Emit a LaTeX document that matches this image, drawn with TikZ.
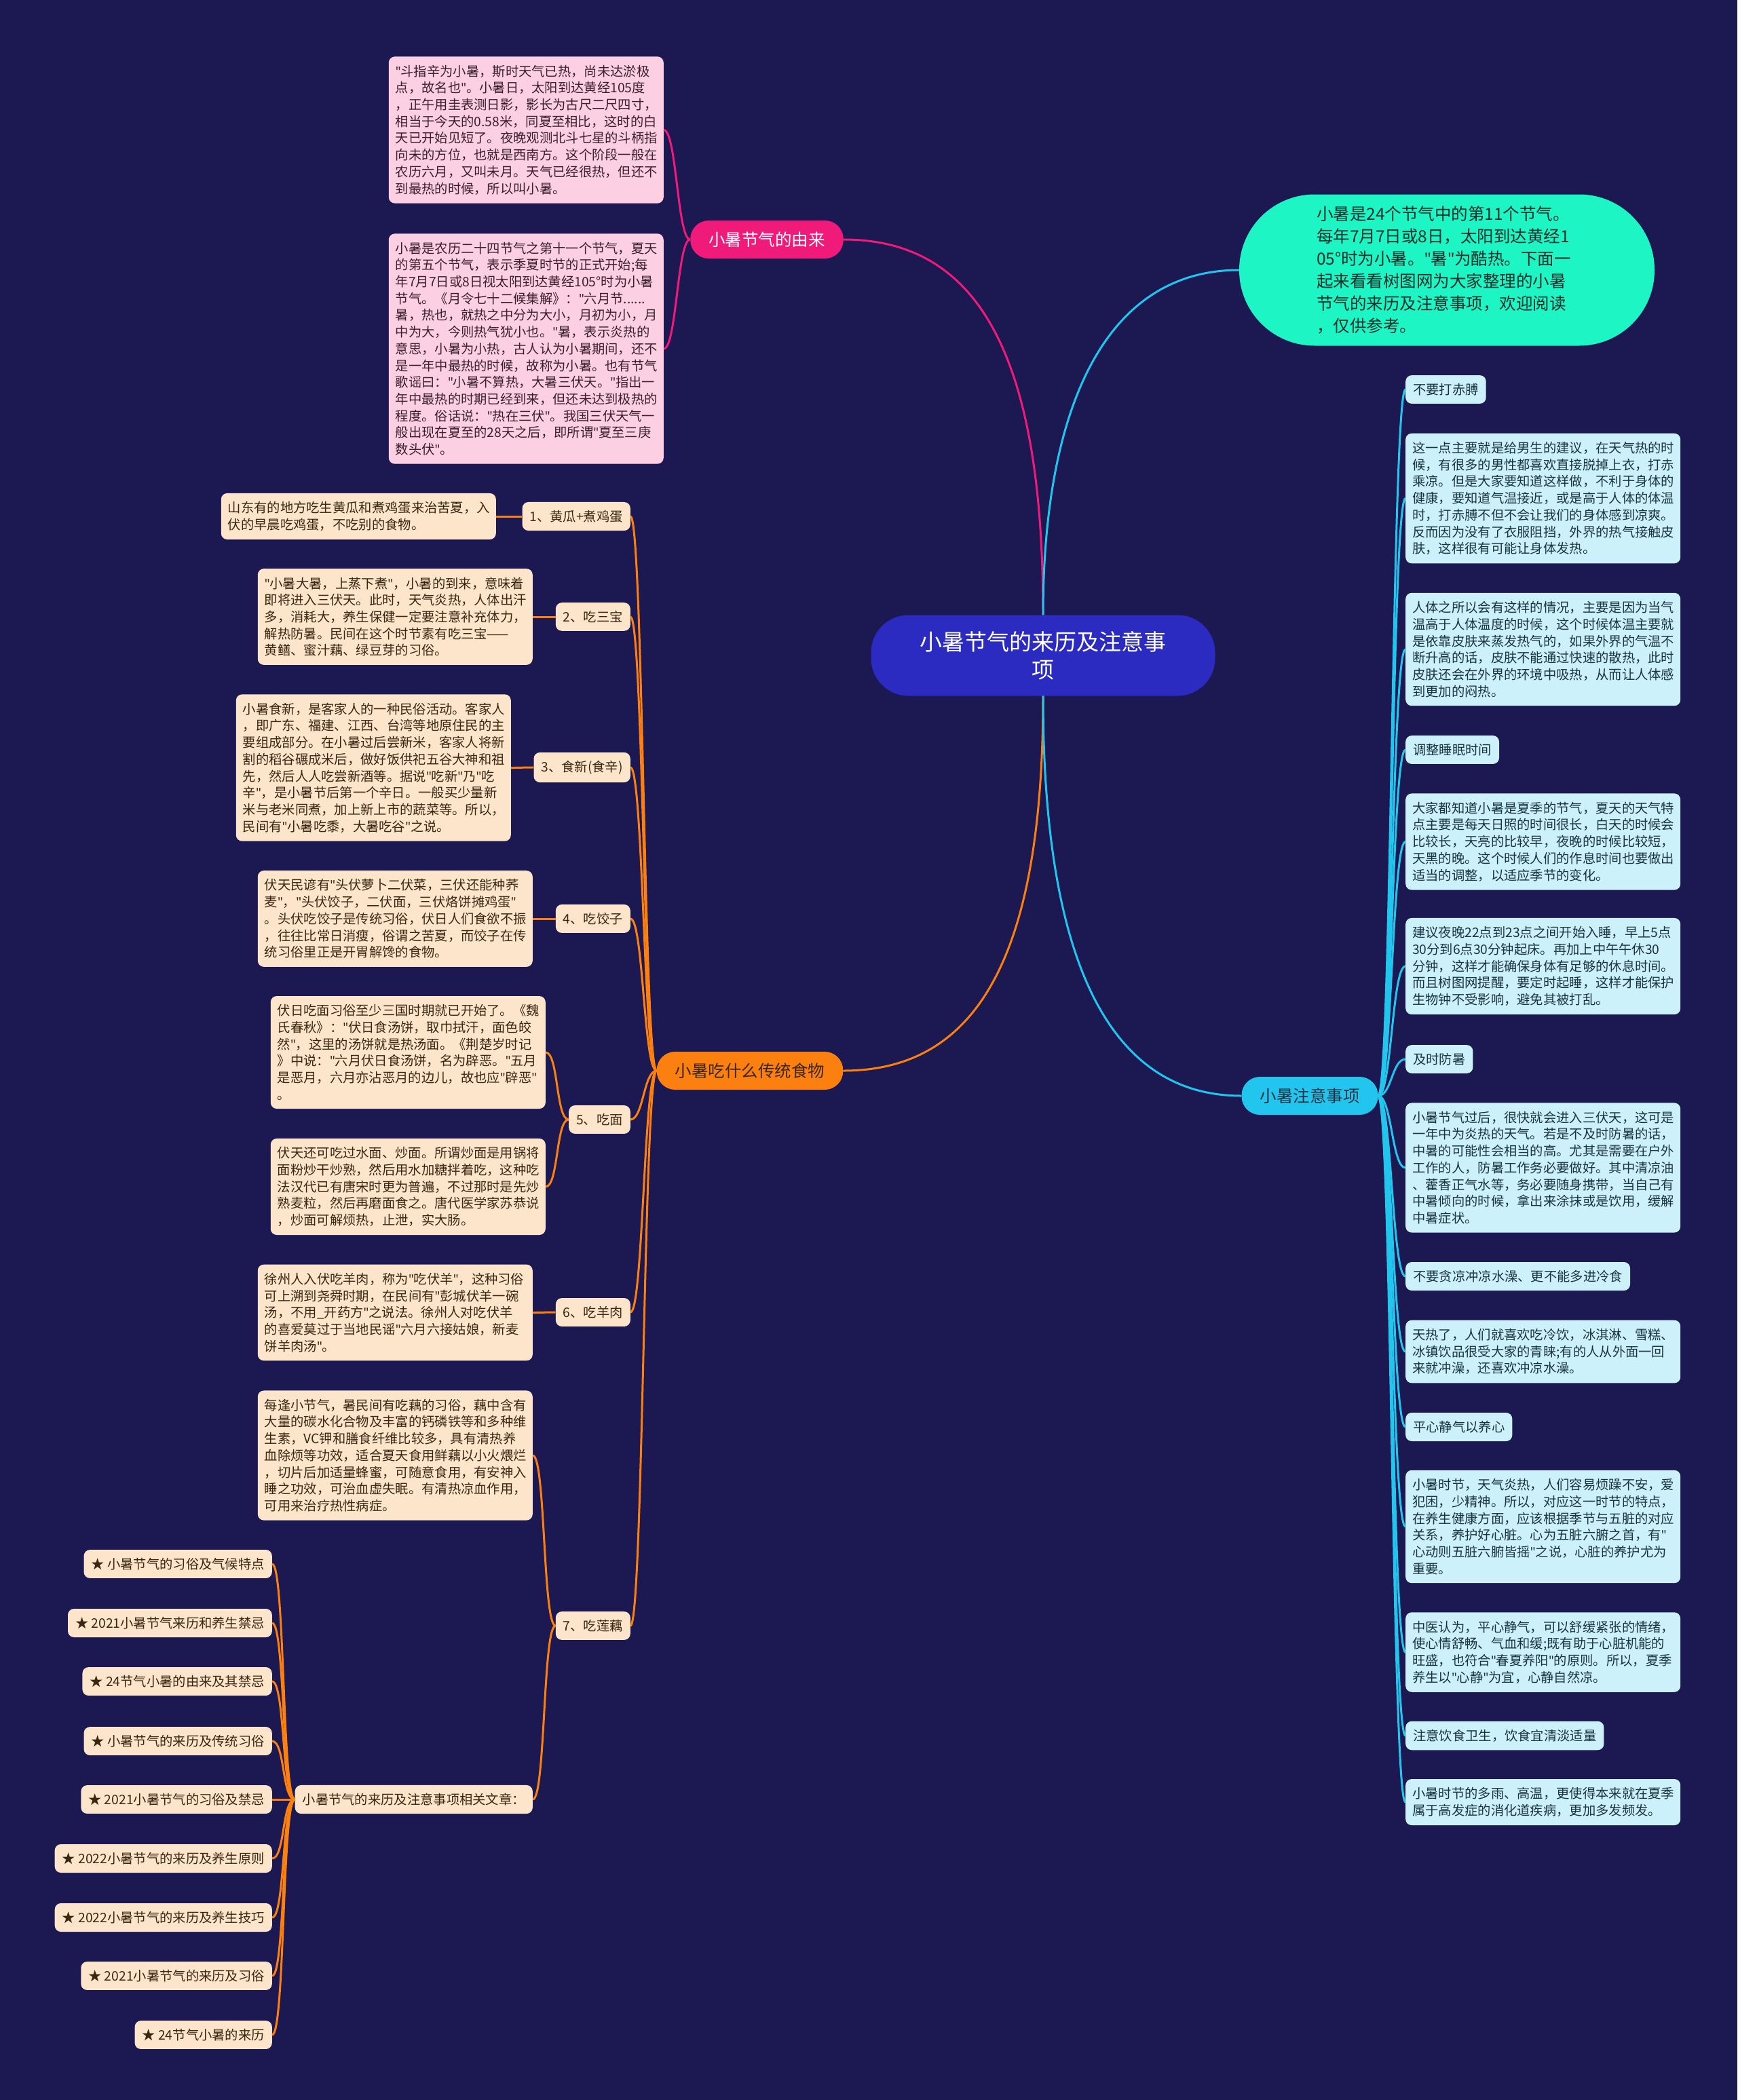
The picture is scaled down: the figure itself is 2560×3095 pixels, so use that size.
\documentclass[tikz,border=0pt]{standalone}
\usepackage{fontspec}
\setmainfont{Noto Sans CJK SC}
\newfontfamily\quotefont{Noto Sans}
\newcommand{\dq}{{\quotefont"}}
\definecolor{night}{HTML}{1B1852}
\definecolor{rootblue}{HTML}{2B2BC2}
\definecolor{mint}{HTML}{1EF5C5}
\definecolor{hotpink}{HTML}{F01A7B}
\definecolor{tangerine}{HTML}{FC800F}
\definecolor{sky}{HTML}{22C5EE}
\definecolor{pinkfill}{HTML}{FCD0E2}
\definecolor{sandfill}{HTML}{FCE5CB}
\definecolor{icefill}{HTML}{CDF1FA}
\definecolor{pinkink}{HTML}{3B1F2B}
\definecolor{sandink}{HTML}{3A2613}
\definecolor{iceink}{HTML}{1A3344}
\definecolor{mintink}{HTML}{14302C}
\begin{document}
\begin{tikzpicture}[x=1pt,y=-1pt,
  every node/.style={font=\fontsize{19.3pt}{24.7pt}\selectfont},
  rootbox/.style={fill=rootblue,text=white,rounded corners=55pt,minimum width=507pt,minimum height=119pt,align=center,font=\fontsize{33pt}{41pt}\selectfont},
  topbox/.style={fill=mint,text=mintink,rounded corners=111pt,minimum width=612pt,minimum height=223pt,text width=384pt,align=left,font=\fontsize{24.5pt}{33pt}\selectfont},
  mainbox/.style={rounded corners=27pt,minimum height=56pt,inner xsep=27pt,font=\fontsize{24.5pt}{30pt}\selectfont},
  note/.style={rounded corners=9pt,inner xsep=10pt,inner ysep=12.5pt,text width=385pt,align=left},
  tag/.style={rounded corners=9pt,inner xsep=11pt,inner ysep=12pt},
  pinknote/.style={note,fill=pinkfill,text=pinkink},
  sandnote/.style={note,fill=sandfill,text=sandink},
  icenote/.style={note,fill=icefill,text=iceink},
  sandtag/.style={tag,fill=sandfill,text=sandink},
  icetag/.style={tag,fill=icefill,text=iceink},
  pinkline/.style={draw=hotpink,line width=3pt},
  orangeline/.style={draw=tangerine,line width=3pt},
  skyline/.style={draw=sky,line width=3pt},
  lft/.style={to path={.. controls +(-19,0) and +(19,0) .. (\tikztotarget)}},
  rgt/.style={to path={.. controls +(20,0) and +(-20,0) .. (\tikztotarget)}}]
\fill[night] (0,0) rectangle (2560,3095);
\useasboundingbox (0,0) rectangle (2560,3095);

\node(root)[rootbox] at (1537,966){小暑节气的来历及注意事\\项};
\node(intro)[topbox] at (2132,398){小暑是24个节气中的第11个节气。\\每年7月7日或8日，太阳到达黄经1\\05°时为小暑。\dq{}暑\dq{}为酷热。下面一\\起来看看树图网为大家整理的小暑\\节气的来历及注意事项，欢迎阅读\\，仅供参考。};
\node(origin)[mainbox,fill=hotpink,text=white] at (1130,353){小暑节气的由来};
\node(food)[mainbox,fill=tangerine,text=sandink] at (1105,1578){小暑吃什么传统食物};
\node(care)[mainbox,fill=sky,text=iceink] at (1930,1615){小暑注意事项};

\node(p1)[pinknote,anchor=east] at (978,191.5){\dq{}斗指辛为小暑，斯时天气已热，尚未达淤极\\点，故名也\dq{}。小暑日，太阳到达黄经105度\\，正午用圭表测日影，影长为古尺二尺四寸，\\相当于今天的0.58米，同夏至相比，这时的白\\天已开始见短了。夜晚观测北斗七星的斗柄指\\向未的方位，也就是西南方。这个阶段一般在\\农历六月，又叫未月。天气已经很热，但还不\\到最热的时候，所以叫小暑。};
\node(p2)[pinknote,anchor=east] at (978,514){小暑是农历二十四节气之第十一个节气，夏天\\的第五个节气，表示季夏时节的正式开始;每\\年7月7日或8日视太阳到达黄经105°时为小暑\\节气。《月令七十二候集解》：\dq{}六月节......\\暑，热也，就热之中分为大小，月初为小，月\\中为大，今则热气犹小也。\dq{}暑，表示炎热的\\意思，小暑为小热，古人认为小暑期间，还不\\是一年中最热的时候，故称为小暑。也有节气\\歌谣曰：\dq{}小暑不算热，大暑三伏天。\dq{}指出一\\年中最热的时期已经到来，但还未达到极热的\\程度。俗话说：\dq{}热在三伏\dq{}。我国三伏天气一\\般出现在夏至的28天之后，即所谓\dq{}夏至三庚\\数头伏\dq{}。};

\node(f1)[sandtag,anchor=east] at (929,761){1、黄瓜+煮鸡蛋};
\node(f2)[sandtag,anchor=east] at (929,909){2、吃三宝};
\node(f3)[sandtag,anchor=east] at (929,1131){3、食新(食辛)};
\node(f4)[sandtag,anchor=east] at (929,1354){4、吃饺子};
\node(f5)[sandtag,anchor=east] at (929,1650){5、吃面};
\node(f6)[sandtag,anchor=east] at (929,1934){6、吃羊肉};
\node(f7)[sandtag,anchor=east] at (929,2396){7、吃莲藕};

\node(t1)[sandnote,anchor=east] at (731,761){山东有的地方吃生黄瓜和煮鸡蛋来治苦夏，入\\伏的早晨吃鸡蛋，不吃别的食物。};
\node(t2)[sandnote,anchor=east] at (785,909){\dq{}小暑大暑，上蒸下煮\dq{}，小暑的到来，意味着\\即将进入三伏天。此时，天气炎热，人体出汗\\多，消耗大，养生保健一定要注意补充体力，\\解热防暑。民间在这个时节素有吃三宝——\\黄鳝、蜜汁藕、绿豆芽的习俗。};
\node(t3)[sandnote,anchor=east] at (753,1131.5){小暑食新，是客家人的一种民俗活动。客家人\\，即广东、福建、江西、台湾等地原住民的主\\要组成部分。在小暑过后尝新米，客家人将新\\割的稻谷碾成米后，做好饭供祀五谷大神和祖\\先，然后人人吃尝新酒等。据说\dq{}吃新\dq{}乃\dq{}吃\\辛\dq{}，是小暑节后第一个辛日。一般买少量新\\米与老米同煮，加上新上市的蔬菜等。所以，\\民间有\dq{}小暑吃黍，大暑吃谷\dq{}之说。};
\node(t4)[sandnote,anchor=east] at (785,1354){伏天民谚有\dq{}头伏萝卜二伏菜，三伏还能种荞\\麦\dq{}，\dq{}头伏饺子，二伏面，三伏烙饼摊鸡蛋\dq{}\\。头伏吃饺子是传统习俗，伏日人们食欲不振\\，往往比常日消瘦，俗谓之苦夏，而饺子在传\\统习俗里正是开胃解馋的食物。};
\node(t5a)[sandnote,anchor=east] at (804,1551){伏日吃面习俗至少三国时期就已开始了。《魏\\氏春秋》：\dq{}伏日食汤饼，取巾拭汗，面色皎\\然\dq{}，这里的汤饼就是热汤面。《荆楚岁时记\\》中说：\dq{}六月伏日食汤饼，名为辟恶。\dq{}五月\\是恶月，六月亦沾恶月的边儿，故也应\dq{}辟恶\dq{}\\。};
\node(t5b)[sandnote,anchor=east] at (804,1749){伏天还可吃过水面、炒面。所谓炒面是用锅将\\面粉炒干炒熟，然后用水加糖拌着吃，这种吃\\法汉代已有唐宋时更为普遍，不过那时是先炒\\熟麦粒，然后再磨面食之。唐代医学家苏恭说\\，炒面可解烦热，止泄，实大肠。};
\node(t6)[sandnote,anchor=east] at (785,1934.5){徐州人入伏吃羊肉，称为\dq{}吃伏羊\dq{}，这种习俗\\可上溯到尧舜时期，在民间有\dq{}彭城伏羊一碗\\汤，不用\_开药方\dq{}之说法。徐州人对吃伏羊\\的喜爱莫过于当地民谣\dq{}六月六接姑娘，新麦\\饼羊肉汤\dq{}。};
\node(t7)[sandnote,anchor=east] at (785,2145){每逢小节气，暑民间有吃藕的习俗，藕中含有\\大量的碳水化合物及丰富的钙磷铁等和多种维\\生素，VC钾和膳食纤维比较多，具有清热养\\血除烦等功效，适合夏天食用鲜藕以小火煨烂\\，切片后加适量蜂蜜，可随意食用，有安神入\\睡之功效，可治血虚失眠。有清热凉血作用，\\可用来治疗热性病症。};
\node(rel)[sandtag,anchor=east] at (785,2652){小暑节气的来历及注意事项相关文章：};

\node(s1)[sandtag,anchor=east] at (401,2305){★ 小暑节气的习俗及气候特点};
\node(s2)[sandtag,anchor=east] at (401,2392){★ 2021小暑节气来历和养生禁忌};
\node(s3)[sandtag,anchor=east] at (401,2478){★ 24节气小暑的由来及其禁忌};
\node(s4)[sandtag,anchor=east] at (401,2566){★ 小暑节气的来历及传统习俗};
\node(s5)[sandtag,anchor=east] at (401,2652){★ 2021小暑节气的习俗及禁忌};
\node(s6)[sandtag,anchor=east] at (401,2739){★ 2022小暑节气的来历及养生原则};
\node(s7)[sandtag,anchor=east] at (401,2826){★ 2022小暑节气的来历及养生技巧};
\node(s8)[sandtag,anchor=east] at (401,2912){★ 2021小暑节气的来历及习俗};
\node(s9)[sandtag,anchor=east] at (401,2999){★ 24节气小暑的来历};

\node(c1)[icetag,anchor=west] at (2071,574){不要打赤膊};
\node(r1)[icenote,anchor=west] at (2071,734.5){这一点主要就是给男生的建议，在天气热的时\\候，有很多的男性都喜欢直接脱掉上衣，打赤\\乘凉。但是大家要知道这样做，不利于身体的\\健康，要知道气温接近，或是高于人体的体温\\时，打赤膊不但不会让我们的身体感到凉爽。\\反而因为没有了衣服阻挡，外界的热气接触皮\\肤，这样很有可能让身体发热。};
\node(r2)[icenote,anchor=west] at (2071,957){人体之所以会有这样的情况，主要是因为当气\\温高于人体温度的时候，这个时候体温主要就\\是依靠皮肤来蒸发热气的，如果外界的气温不\\断升高的话，皮肤不能通过快速的散热，此时\\皮肤还会在外界的环境中吸热，从而让人体感\\到更加的闷热。};
\node(c2)[icetag,anchor=west] at (2071,1105){调整睡眠时间};
\node(r3)[icenote,anchor=west] at (2071,1240.5){大家都知道小暑是夏季的节气，夏天的天气特\\点主要是每天日照的时间很长，白天的时候会\\比较长，天亮的比较早，夜晚的时候比较短，\\天黑的晚。这个时候人们的作息时间也要做出\\适当的调整，以适应季节的变化。};
\node(r4)[icenote,anchor=west] at (2071,1424){建议夜晚22点到23点之间开始入睡，早上5点\\30分到6点30分钟起床。再加上中午午休30\\分钟，这样才能确保身体有足够的休息时间。\\而且树图网提醒，要定时起睡，这样才能保护\\生物钟不受影响，避免其被打乱。};
\node(c3)[icetag,anchor=west] at (2071,1561){及时防暑};
\node(r5)[icenote,anchor=west] at (2071,1721){小暑节气过后，很快就会进入三伏天，这可是\\一年中为炎热的天气。若是不及时防暑的话，\\中暑的可能性会相当的高。尤其是需要在户外\\工作的人，防暑工作务必要做好。其中清凉油\\、藿香正气水等，务必要随身携带，当自己有\\中暑倾向的时候，拿出来涂抹或是饮用，缓解\\中暑症状。};
\node(c4)[icetag,anchor=west] at (2071,1881){不要贪凉冲凉水澡、更不能多进冷食};
\node(r6)[icenote,anchor=west] at (2071,1992){天热了，人们就喜欢吃冷饮，冰淇淋、雪糕、\\冰镇饮品很受大家的青睐;有的人从外面一回\\来就冲澡，还喜欢冲凉水澡。};
\node(c5)[icetag,anchor=west] at (2071,2103){平心静气以养心};
\node(r7)[icenote,anchor=west] at (2071,2250){小暑时节，天气炎热，人们容易烦躁不安，爱\\犯困，少精神。所以，对应这一时节的特点，\\在养生健康方面，应该根据季节与五脏的对应\\关系，养护好心脏。心为五脏六腑之首，有\dq{}\\心动则五脏六腑皆摇\dq{}之说，心脏的养护尤为\\重要。};
\node(r8)[icenote,anchor=west] at (2071,2435){中医认为，平心静气，可以舒缓紧张的情绪，\\使心情舒畅、气血和缓;既有助于心脏机能的\\旺盛，也符合\dq{}春夏养阳\dq{}的原则。所以，夏季\\养生以\dq{}心静\dq{}为宜，心静自然凉。};
\node(c6)[icetag,anchor=west] at (2071,2558){注意饮食卫生，饮食宜清淡适量};
\node(r9)[icenote,anchor=west] at (2071,2656){小暑时节的多雨、高温，更使得本来就在夏季\\属于高发症的消化道疾病，更加多发频发。};

\draw[pinkline] (root.north) .. controls +(0,-380) and +(200,0) .. (origin.east);
\draw[orangeline] (root.south) .. controls +(0,380) and +(200,0) .. (food.east);
\draw[skyline] (root.north) .. controls +(0,-300) and +(-200,0) .. (intro.west);
\draw[skyline] (root.south) .. controls +(0,380) and +(-200,0) .. (care.west);

\draw[pinkline] (origin.west) to[lft] (p1.east);
\draw[pinkline] (origin.west) to[lft] (p2.east);

\draw[orangeline] (food.west) to[lft] (f1.east);
\draw[orangeline] (food.west) to[lft] (f2.east);
\draw[orangeline] (food.west) to[lft] (f3.east);
\draw[orangeline] (food.west) to[lft] (f4.east);
\draw[orangeline] (food.west) to[lft] (f5.east);
\draw[orangeline] (food.west) to[lft] (f6.east);
\draw[orangeline] (food.west) to[lft] (f7.east);
\draw[orangeline] (f1.west) to[lft] (t1.east);
\draw[orangeline] (f2.west) to[lft] (t2.east);
\draw[orangeline] (f3.west) to[lft] (t3.east);
\draw[orangeline] (f4.west) to[lft] (t4.east);
\draw[orangeline] (f5.west) to[lft] (t5a.east);
\draw[orangeline] (f5.west) to[lft] (t5b.east);
\draw[orangeline] (f6.west) to[lft] (t6.east);
\draw[orangeline] (f7.west) to[lft] (t7.east);
\draw[orangeline] (f7.west) to[lft] (rel.east);
\draw[orangeline] (rel.west) to[lft] (s1.east);
\draw[orangeline] (rel.west) to[lft] (s2.east);
\draw[orangeline] (rel.west) to[lft] (s3.east);
\draw[orangeline] (rel.west) to[lft] (s4.east);
\draw[orangeline] (rel.west) to[lft] (s5.east);
\draw[orangeline] (rel.west) to[lft] (s6.east);
\draw[orangeline] (rel.west) to[lft] (s7.east);
\draw[orangeline] (rel.west) to[lft] (s8.east);
\draw[orangeline] (rel.west) to[lft] (s9.east);

\draw[skyline] (care.east) to[rgt] (c1.west);
\draw[skyline] (care.east) to[rgt] (r1.west);
\draw[skyline] (care.east) to[rgt] (r2.west);
\draw[skyline] (care.east) to[rgt] (c2.west);
\draw[skyline] (care.east) to[rgt] (r3.west);
\draw[skyline] (care.east) to[rgt] (r4.west);
\draw[skyline] (care.east) to[rgt] (c3.west);
\draw[skyline] (care.east) to[rgt] (r5.west);
\draw[skyline] (care.east) to[rgt] (c4.west);
\draw[skyline] (care.east) to[rgt] (r6.west);
\draw[skyline] (care.east) to[rgt] (c5.west);
\draw[skyline] (care.east) to[rgt] (r7.west);
\draw[skyline] (care.east) to[rgt] (r8.west);
\draw[skyline] (care.east) to[rgt] (c6.west);
\draw[skyline] (care.east) to[rgt] (r9.west);
\end{tikzpicture}
\end{document}
